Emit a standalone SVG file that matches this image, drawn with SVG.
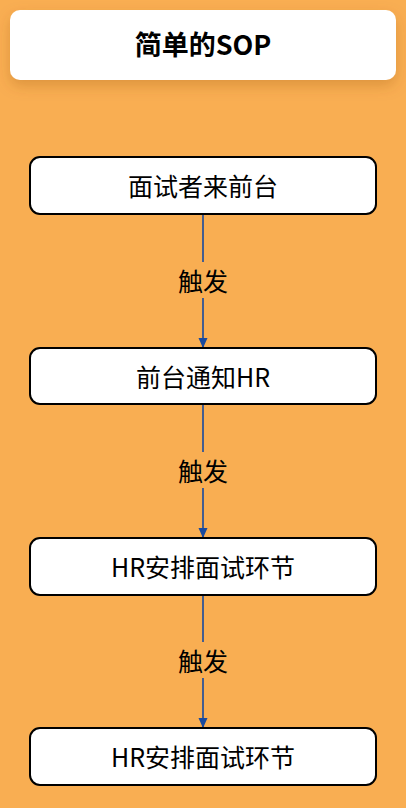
<svg xmlns="http://www.w3.org/2000/svg" width="406" height="808" viewBox="0 0 406 808">
<style>
text{font-family:"Noto Sans CJK SC","Noto Sans",sans-serif;text-anchor:middle;dominant-baseline:central;fill:#000}
.box{fill:#fff;stroke:#000;stroke-width:2}
.t{font-size:25px}
.lbl{font-size:25px}
.edge{stroke:#1A4A9E;stroke-width:1.6;fill:none}
</style>
<defs>
<filter id="sh" x="-10%" y="-30%" width="120%" height="180%">
<feDropShadow dx="0" dy="6" stdDeviation="7" flood-color="#8a4a00" flood-opacity="0.25"/>
</filter>
<marker id="ah" markerWidth="10" markerHeight="10" refX="9" refY="5" orient="auto" markerUnits="userSpaceOnUse">
<path d="M0,0.5 L10,5 L0,9.5 Z" fill="#1A4A9E"/>
</marker>
</defs>
<rect width="406" height="808" fill="#F9AE52"/>
<g id="title">
<rect x="10" y="10" width="386" height="70" rx="10" fill="#fff" filter="url(#sh)"/>
<text x="203" y="43" style="font-size:27px;font-weight:bold">简单的SOP</text>
</g>
<g id="connectors">
<path class="edge" d="M203,214 V262 M203,298 V347" marker-end="url(#ah)"/>
<text class="lbl" x="203" y="280">触发</text>
<path class="edge" d="M203,404 V452 M203,488 V537" marker-end="url(#ah)"/>
<text class="lbl" x="203" y="470">触发</text>
<path class="edge" d="M203,595 V642 M203,678 V727" marker-end="url(#ah)"/>
<text class="lbl" x="203" y="660">触发</text>
</g>
<g id="n1"><rect class="box" x="30" y="157" width="346" height="57" rx="10"/><text class="t" x="203" y="185">面试者来前台</text></g>
<g id="n2"><rect class="box" x="30" y="348" width="346" height="56" rx="10"/><text class="t" x="203" y="376">前台通知HR</text></g>
<g id="n3"><rect class="box" x="30" y="538" width="346" height="57" rx="10"/><text class="t" x="203" y="566">HR安排面试环节</text></g>
<g id="n4"><rect class="box" x="30" y="728" width="346" height="57" rx="10"/><text class="t" x="203" y="756">HR安排面试环节</text></g>
</svg>
